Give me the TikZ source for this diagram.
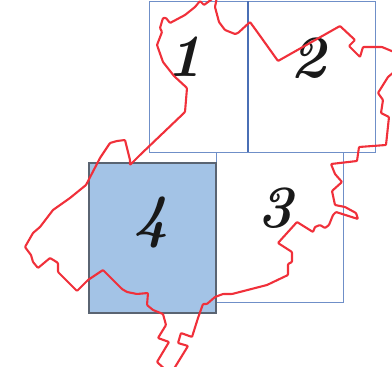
\documentclass[tikz,border=0pt]{standalone}
\tikzset{
  sheet/.style={draw=sheetblue,line width=1pt},
  sheetfill/.style={draw=sheetgray,fill=sheetfillc,line width=1.3pt},
  region/.style={draw=regionred,line width=2.1pt,line join=round,rounded corners=0.8pt},
  sheetnum/.style={inner sep=0pt,text=black!90,font=\fontsize{60}{60}\selectfont\bfseries\itshape}
}
\definecolor{sheetblue}{HTML}{6F8FC8}
\definecolor{sheetdark}{HTML}{4A6FB5}
\definecolor{sheetgray}{HTML}{5A6472}
\definecolor{sheetfillc}{HTML}{A3C3E6}
\definecolor{regionred}{HTML}{F0303A}
\begin{document}
\begin{tikzpicture}[x=1pt,y=-1pt]
\useasboundingbox (0,0) rectangle (392,367);
\clip (0,0) rectangle (392,367);
\draw[sheet] (149,1) rectangle (375,152);
\draw[sheet,draw=sheetdark,line width=1.4pt] (248,1) -- (248,152);
\draw[sheet] (216,152) rectangle (343,302);
\draw[sheetfill] (89,163) rectangle (216,313);
\node[sheetnum] (n1) at (184.5,57) {1};
\node[sheetnum] (n2) at (308,58) {2};
\node[sheetnum] (n3) at (275,208) {3};
\node[sheetnum] (n4) at (151,222) {4};
\draw[region]
 (130,165) -- (140,155) -- (185,112) -- (187,88) -- (174,76) -- (163,62) -- (157,45) -- (162,32) -- (160,28)
 -- (163,18) -- (166,18) -- (170,23) -- (185,15) -- (195,7) -- (200,1) -- (204,5) -- (212,-1) -- (217,-3)
 -- (215,7) -- (219,22) -- (225,30) -- (235,34) -- (238,33) -- (250,22) -- (258,33) -- (278,61)
 -- (340,26) -- (355,40) -- (349,46) -- (360,57) -- (363,47) -- (382,47) -- (394,52) -- (394,72) -- (388,77)
 -- (378,93) -- (383,100) -- (381,113) -- (389,117) -- (386,145) -- (359,147) -- (357,161) -- (331,164)
 -- (335,174) -- (342,182) -- (332,191) -- (335,205) -- (345,207) -- (356,213) -- (358,219) -- (336,212)
 -- (333,215) -- (329,225) -- (325,228) -- (320,225) -- (315,227) -- (313,232) -- (297,222) -- (278,243)
 -- (292,252) -- (292,262) -- (288,264) -- (288,275) -- (267,285) -- (232,294) -- (223,294) -- (215,297)
 -- (207,304) -- (203,304) -- (198,318) -- (192,337) -- (181,333) -- (178,343) -- (188,346) -- (172,372)
 -- (168,372) -- (157,362) -- (169,342) -- (158,338) -- (166,325) -- (163,314) -- (153,310) -- (147,305)
 -- (148,293) -- (137,294) -- (127,292) -- (122,289) -- (103,270) -- (88,280) -- (77,291) -- (58,272)
 -- (58,263) -- (55,261) -- (50,258) -- (38,268) -- (33,262) -- (31,255) -- (25,247) -- (33,233) -- (40,227)
 -- (53,210) -- (70,198) -- (86,185) -- (100,158) -- (110,143) -- (117,141) -- (125,140) -- (130,160) -- cycle;
\end{tikzpicture}
\end{document}
